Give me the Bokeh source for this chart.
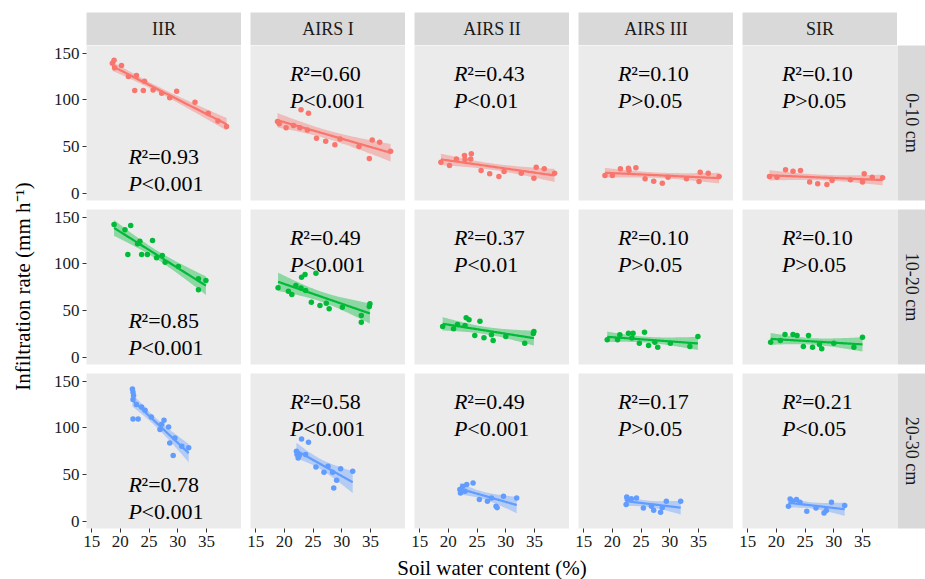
import numpy as np
from bokeh.plotting import figure
from bokeh.layouts import column, row
from bokeh.models import Range1d, FixedTicker, Spacer
from bokeh.core.properties import value
from bokeh.embed import file_html
from bokeh.resources import INLINE

# ---------------- data ----------------
treatments = ["IIR", "AIRS I", "AIRS II", "AIRS III", "SIR"]
depths = ["0-10 cm", "10-20 cm", "20-30 cm"]
colors = ["#F8766D", "#00BA38", "#619CFF"]
x_ticks = [15, 20, 25, 30, 35]
y_ticks = [0, 50, 100, 150]
x_title = "Soil water content (%)"
y_title = "Infiltration rate (mm h\u207b\u00b9)"

# 0-10 cm
swc_iir_1 = [18.6, 18.9, 20.2, 19.0, 21.4, 22.8, 22.5, 24.0, 24.2, 25.7, 27.2, 28.6, 29.8, 33.0, 35.3, 38.5, 37.0]
ir_iir_1 = [139.4, 142.6, 136.8, 134.4, 125.1, 126.1, 110.1, 110.1, 120.0, 110.5, 107.2, 102.2, 109.3, 97.6, 85.7, 71.5, 77.5]
swc_a1_1 = [18.8, 19.1, 20.3, 21.6, 22.7, 22.9, 24.2, 24.0, 25.6, 27.2, 28.8, 29.7, 33.0, 35.3, 36.6, 34.8, 38.5]
ir_a1_1 = [76.9, 74.4, 70.1, 72.6, 70.1, 89.4, 85.7, 67.7, 59.0, 55.8, 51.9, 58.0, 50.2, 57.1, 54.7, 37.2, 45.1]
swc_a2_1 = [18.7, 20.2, 21.4, 22.8, 22.9, 24.0, 23.9, 25.7, 27.2, 28.8, 29.7, 32.7, 35.3, 36.7, 34.9, 38.5]
ir_a2_1 = [33.2, 29.7, 36.8, 40.4, 36.2, 42.2, 36.8, 24.4, 20.8, 17.9, 23.3, 21.5, 27.9, 26.1, 16.1, 21.5]
swc_a3_1 = [18.7, 20.0, 21.4, 22.8, 22.9, 24.1, 25.7, 27.2, 28.7, 29.7, 32.9, 35.3, 36.7, 35.1, 38.6]
ir_a3_1 = [19.0, 19.0, 26.1, 26.8, 24.4, 27.2, 15.4, 12.9, 10.8, 17.2, 15.4, 22.5, 21.5, 12.5, 17.9]
swc_sir_1 = [18.8, 20.1, 21.6, 22.9, 24.2, 25.8, 27.2, 28.8, 29.7, 32.9, 35.3, 36.7, 35.0, 38.5]
ir_sir_1 = [17.9, 17.2, 25.1, 23.6, 24.4, 11.9, 10.1, 9.3, 13.6, 14.4, 20.8, 17.2, 11.9, 16.5]

# 10-20 cm
swc_iir_2 = [18.9, 20.8, 21.8, 21.3, 23.0, 23.4, 23.7, 24.7, 25.6, 26.3, 27.3, 27.8, 30.1, 33.6, 34.9, 33.6]
ir_iir_2 = [142.2, 136.6, 141.1, 110.1, 121.5, 124.3, 110.1, 110.1, 125.1, 106.5, 109.1, 101.9, 97.2, 84.1, 82.2, 72.2]
swc_a1_2 = [18.9, 20.7, 21.3, 22.0, 23.0, 23.6, 25.5, 22.9, 23.7, 24.7, 26.2, 27.3, 27.8, 30.1, 33.4, 34.9, 34.8, 33.4]
ir_a1_2 = [74.4, 70.8, 67.3, 76.9, 85.7, 88.6, 90.0, 74.1, 71.5, 59.0, 55.4, 57.9, 51.9, 53.6, 44.7, 57.2, 54.4, 37.5]
swc_a2_2 = [19.0, 20.9, 21.6, 23.1, 23.6, 22.9, 25.5, 24.6, 26.2, 27.5, 27.8, 30.0, 33.3, 34.9, 34.8]
ir_a2_2 = [33.0, 30.4, 35.1, 42.3, 40.2, 34.0, 38.6, 23.3, 20.8, 24.0, 17.9, 22.3, 15.1, 27.6, 25.5]
swc_a3_2 = [19.1, 20.9, 21.3, 22.8, 23.6, 23.4, 25.6, 24.7, 26.3, 27.4, 27.9, 30.1, 33.5, 34.9]
ir_a3_2 = [18.7, 18.7, 24.0, 25.8, 25.8, 20.5, 26.8, 15.1, 12.5, 16.1, 10.8, 15.1, 11.5, 22.3]
swc_sir_2 = [19.0, 20.7, 21.5, 22.9, 23.6, 25.6, 24.7, 26.3, 27.9, 27.5, 30.0, 33.5, 35.0]
ir_sir_2 = [16.1, 17.9, 24.4, 24.4, 23.3, 23.3, 11.5, 10.8, 9.0, 13.6, 15.1, 10.8, 21.5]

# 20-30 cm
swc_iir_3 = [22.1, 22.2, 22.3, 22.2, 22.2, 23.1, 22.8, 23.7, 24.3, 25.4, 26.9, 27.6, 27.2, 28.4, 28.6, 29.5, 29.2, 30.7, 31.9]
ir_iir_3 = [141.8, 138.2, 134.7, 130.4, 109.6, 109.6, 125.1, 122.5, 119.0, 111.8, 98.3, 108.3, 103.9, 101.1, 83.9, 89.2, 70.4, 80.4, 78.6]
swc_a1_3 = [23.0, 24.2, 22.1, 22.2, 22.4, 22.6, 23.7, 25.5, 26.9, 27.6, 28.4, 29.1, 29.8, 28.6, 31.9]
ir_a1_3 = [88.2, 84.7, 75.0, 71.4, 67.8, 70.4, 71.4, 58.2, 52.5, 58.9, 52.5, 43.9, 56.1, 35.7, 53.6]
swc_a2_3 = [22.0, 22.1, 22.5, 23.2, 24.3, 25.4, 26.8, 27.5, 28.3, 28.5, 29.6, 31.9, 22.9]
ir_a2_3 = [33.9, 30.3, 37.5, 39.3, 41.0, 23.2, 21.5, 25.0, 16.0, 14.5, 26.8, 25.0, 32.0]
swc_a3_3 = [22.5, 22.6, 22.4, 23.3, 24.2, 25.4, 26.8, 27.2, 28.4, 29.4, 28.7, 31.9]
ir_a3_3 = [26.0, 23.2, 17.9, 24.2, 25.0, 14.3, 16.0, 11.8, 9.6, 21.5, 14.5, 21.5]
swc_sir_3 = [22.4, 22.8, 22.1, 23.5, 24.1, 25.3, 26.9, 28.3, 28.7, 29.6, 31.9]
ir_sir_3 = [23.9, 21.8, 16.0, 23.2, 20.3, 10.7, 14.3, 8.9, 11.6, 20.3, 16.8]

r2_labels = [["0.93", "0.60", "0.43", "0.10", "0.10"],
             ["0.85", "0.49", "0.37", "0.10", "0.10"],
             ["0.78", "0.58", "0.49", "0.17", "0.21"]]
p_labels = [["<0.001", "<0.001", "<0.01", ">0.05", ">0.05"],
            ["<0.001", "<0.001", "<0.01", ">0.05", ">0.05"],
            ["<0.001", "<0.001", "<0.001", ">0.05", "<0.05"]]

swc = [[swc_iir_1, swc_a1_1, swc_a2_1, swc_a3_1, swc_sir_1],
       [swc_iir_2, swc_a1_2, swc_a2_2, swc_a3_2, swc_sir_2],
       [swc_iir_3, swc_a1_3, swc_a2_3, swc_a3_3, swc_sir_3]]
ir = [[ir_iir_1, ir_a1_1, ir_a2_1, ir_a3_1, ir_sir_1],
      [ir_iir_2, ir_a1_2, ir_a2_2, ir_a3_2, ir_sir_2],
      [ir_iir_3, ir_a1_3, ir_a2_3, ir_a3_3, ir_sir_3]]

# ---------------- style / layout ----------------
FONT = "Liberation Serif"
XR = (14.1, 41.1)
YR = (-7.8, 158.3)
PANEL_BG = "#EBEBEB"
STRIP_BG = "#D9D9D9"
FW = FH = 155
GAP = 9
YT_W = 40          # width of the y-title column
LEFT = 86 - YT_W   # left border of the first panel column
TOP = 12
STRIP_H = 33
RSTRIP_W = 28
BOTTOM = 27
GRID_H = TOP + STRIP_H + (FH + 5) + (4 + FH + 5) + (4 + FH + BOTTOM)
XT_H = 579 - GRID_H
ANN_FS = "22px"
TICK_FS = "17px"
STRIP_FS = "18px"
TITLE_FS = "21px"


def t975(df):
    z = 1.959963985
    g1 = (z**3 + z) / 4
    g2 = (5 * z**5 + 16 * z**3 + 3 * z) / 96
    g3 = (3 * z**7 + 19 * z**5 + 17 * z**3 - 15 * z) / 384
    g4 = (79 * z**9 + 776 * z**7 + 1482 * z**5 - 1920 * z**3 - 945 * z) / 92160
    return z + g1 / df + g2 / df**2 + g3 / df**3 + g4 / df**4


def smooth(x, y):
    x = np.asarray(x, float)
    y = np.asarray(y, float)
    n = len(x)
    b1, b0 = np.polyfit(x, y, 1)
    res = y - (b0 + b1 * x)
    s = np.sqrt(np.sum(res**2) / (n - 2))
    xm = x.mean()
    sxx = np.sum((x - xm) ** 2)
    xs = np.linspace(x.min(), x.max(), 80)
    fit = b0 + b1 * xs
    se = s * np.sqrt(1.0 / n + (xs - xm) ** 2 / sxx)
    t = t975(n - 2)
    return xs, fit, fit - t * se, fit + t * se


def style_axes(p):
    for ax in p.axis:
        ax.axis_line_color = None
        ax.major_tick_line_color = "#333333"
        ax.major_tick_in = 0
        ax.major_tick_out = 4
        ax.minor_tick_line_color = None
        ax.major_label_text_font = FONT
        ax.major_label_text_font_size = TICK_FS
        ax.major_label_text_color = "#1A1A1A"


def bare(width, height, bg, **borders):
    p = figure(frame_width=width, frame_height=height,
               x_range=Range1d(0, 1), y_range=Range1d(0, 1),
               output_backend="svg", toolbar_location=None,
               x_axis_location=None, y_axis_location=None,
               min_border_left=borders.get("left", 0), min_border_right=borders.get("right", 0),
               min_border_top=borders.get("top", 0), min_border_bottom=borders.get("bottom", 0),
               background_fill_color=bg, border_fill_color="white",
               outline_line_color=None)
    p.grid.grid_line_color = None
    return p


def panel(r, c):
    p = figure(frame_width=FW, frame_height=FH,
               x_range=Range1d(*XR), y_range=Range1d(*YR),
               output_backend="svg", toolbar_location=None,
               x_axis_location="below" if r == 2 else None,
               y_axis_location="left" if c == 0 else None,
               min_border_left=LEFT if c == 0 else GAP, min_border_right=0,
               min_border_top=0 if r == 0 else 4,
               min_border_bottom=BOTTOM if r == 2 else 5,
               background_fill_color=PANEL_BG, border_fill_color="white",
               outline_line_color=None)
    p.grid.grid_line_color = None
    if r == 2:
        p.xaxis.ticker = FixedTicker(ticks=x_ticks)
        p.xaxis.major_label_standoff = 3
    if c == 0:
        p.yaxis.ticker = FixedTicker(ticks=y_ticks)
        p.yaxis.major_label_standoff = 3
    style_axes(p)

    col = colors[r]
    x, y = swc[r][c], ir[r][c]
    p.scatter(x, y, size=5.5, color=col, line_color=None)
    xs, fit, lo, hi = smooth(x, y)
    p.varea(x=xs, y1=lo, y2=hi, fill_color=col, fill_alpha=0.4)
    p.line(xs, fit, line_color=col, line_width=2.2)

    if c == 0:
        tx, ty1, ty2 = 21.4, 39.0, 10.0
    else:
        tx, ty1, ty2 = 21.0, 128.0, 99.0
    common = dict(text_font=value(FONT), text_font_size=ANN_FS,
                  text_baseline="middle", text_align="left", text_color="black")
    p.text(x=[tx], y=[ty1], text=["R"], text_font_style="italic", **common)
    p.text(x=[tx], y=[ty1], text=["\u00b2=" + r2_labels[r][c]], x_offset=13.2, **common)
    p.text(x=[tx], y=[ty2], text=["P"], text_font_style="italic", **common)
    p.text(x=[tx], y=[ty2], text=[p_labels[r][c]], x_offset=13.2, **common)
    return p


def top_strip(c):
    p = bare(FW, STRIP_H, STRIP_BG, left=LEFT if c == 0 else GAP, top=TOP)
    p.text(x=[0.5], y=[0.5], text=[treatments[c]], text_font=value(FONT),
           text_font_size=STRIP_FS, text_align="center", text_baseline="middle",
           text_color="#1A1A1A")
    return p


def right_strip(r):
    p = bare(RSTRIP_W, FH, STRIP_BG, top=0 if r == 0 else 4,
             bottom=BOTTOM if r == 2 else 5)
    p.text(x=[0.5], y=[0.5], text=[depths[r]], text_font=value(FONT),
           text_font_size=STRIP_FS, text_align="center", text_baseline="middle",
           angle=-np.pi / 2, text_color="#1A1A1A")
    return p


# y-axis title column
yt = bare(YT_W, GRID_H, "white")
yt.text(x=[0.55], y=[1 - 286 / GRID_H], text=[y_title], text_font=value(FONT),
        text_font_size=TITLE_FS, text_align="center", text_baseline="middle",
        angle=np.pi / 2, text_color="black")

# x-axis title row
xt = bare(925, XT_H, "white")
xt.text(x=[491.5 / 925], y=[0.5], text=[x_title], text_font=value(FONT),
        text_font_size=TITLE_FS, text_align="center", text_baseline="middle",
        text_color="black")

rows = [row([top_strip(c) for c in range(5)] + [Spacer(width=RSTRIP_W, height=TOP + STRIP_H)])]
for r in range(3):
    rows.append(row([panel(r, c) for c in range(5)] + [right_strip(r)]))
grid = column(rows)
layout = column(row(yt, grid), xt)

open("out.html", "w").write(file_html(layout, INLINE))
